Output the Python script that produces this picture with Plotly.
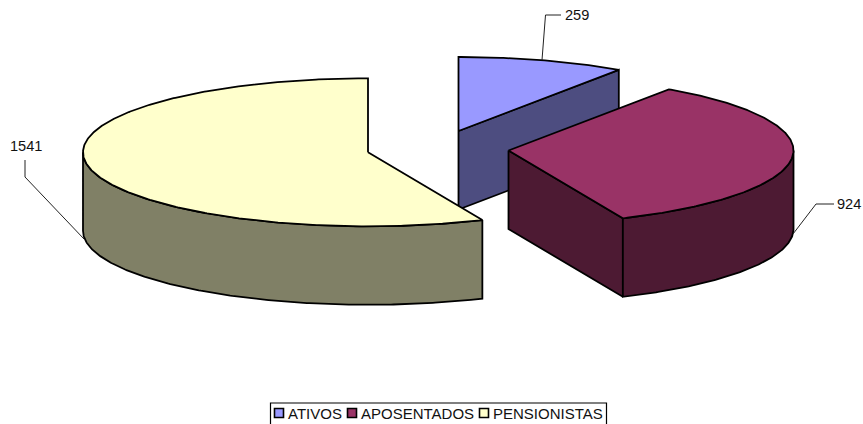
import math
import plotly.graph_objects as go

categories = ["ATIVOS", "APOSENTADOS", "PENSIONISTAS"]
values = [259, 924, 1541]
top_colors = ["#9999FF", "#993366", "#FFFFCC"]
side_colors = ["#4D4D80", "#4D1A33", "#808066"]

# projection of the 3-D pie, in page pixels
centers = [(458.5, 131), (508.5, 150.5), (368, 152.3)]
RX, RY, DEPTH = 285, 74, 78.5
WIDTH, HEIGHT = 863, 424


def pt(c, deg, dz=0.0):
    a = math.radians(deg)
    return c[0] + RX * math.sin(a), c[1] - RY * math.cos(a) + dz


def arc(c, a0, a1, dz=0.0):
    n = max(2, int(abs(a1 - a0) * 2))
    return [pt(c, a0 + (a1 - a0) * i / n, dz) for i in range(n + 1)]


def poly(points, fill, name):
    xs = [p[0] for p in points] + [points[0][0]]
    ys = [p[1] for p in points] + [points[0][1]]
    return go.Scatter(x=xs, y=ys, mode="lines", fill="toself", fillcolor=fill,
                      line=dict(color="black", width=1.8), name=name,
                      showlegend=False, hoverinfo="name")


fig = go.Figure()
total = sum(values)
start = 0.0
for name, v, c, ct, cs in zip(categories, values, centers, top_colors, side_colors):
    end = start + v / total * 360
    # radial wall on the trailing edge, visible when it faces the viewer
    if end < 180:
        wall_pts = [(c[0], c[1]), pt(c, end), pt(c, end, DEPTH), (c[0], c[1] + DEPTH)]
        fig.add_trace(poly(wall_pts, cs, name))
    # outer curved wall: only the front half (90..270 deg)
    f0, f1 = max(start, 90), min(end, 270)
    if f1 > f0:
        fig.add_trace(poly(arc(c, f0, f1) + arc(c, f1, f0, DEPTH), cs, name))
    # top face
    fig.add_trace(poly([(c[0], c[1])] + arc(c, start, end), ct, name))
    start = end

# data labels and leader lines
label_pos = [(577, 15), (849, 204), (26, 146)]
leaders = [
    [(542, 60), (545.5, 15), (561, 15)],
    [(793, 234), (816, 204), (834, 204)],
    [(25, 160), (25, 177), (84, 239)],
]
shapes = []
annotations = []
for v, lp, ld in zip(values, label_pos, leaders):
    annotations.append(dict(x=lp[0], y=lp[1], text=str(v), showarrow=False,
                            font=dict(size=14.6, color="#111111")))
    path = "M" + " L".join(f"{x},{y}" for x, y in ld)
    shapes.append(dict(type="path", path=path, line=dict(color="#222222", width=1)))

# legend box, swatches and texts
shapes.append(dict(type="rect", x0=270.5, x1=606.5, y0=403, y1=426,
                   line=dict(color="black", width=1.2), fillcolor="white"))
swatch_x = [274.5, 347.5, 479.5]
text_x = [288, 361, 493]
for name, ct, sx, tx in zip(categories, top_colors, swatch_x, text_x):
    shapes.append(dict(type="rect", x0=sx, x1=sx + 9, y0=408.5, y1=417.5,
                       fillcolor=ct, line=dict(color="black", width=1.6)))
    annotations.append(dict(x=tx, y=413, text=name, showarrow=False, xanchor="left",
                            xshift=-2, font=dict(size=15, color="#111111")))

fig.update_layout(
    width=WIDTH, height=HEIGHT, margin=dict(l=0, r=0, t=0, b=0),
    paper_bgcolor="white", plot_bgcolor="white", showlegend=False,
    font=dict(family="Liberation Sans, Arial, sans-serif"),
    xaxis=dict(range=[0, WIDTH], visible=False, fixedrange=True),
    yaxis=dict(range=[HEIGHT, 0], visible=False, fixedrange=True),
    shapes=shapes, annotations=annotations,
)
fig.write_html("out.html", config=dict(displayModeBar=False),
               post_script="document.body.style.margin='0';document.body.style.overflow='hidden';")
